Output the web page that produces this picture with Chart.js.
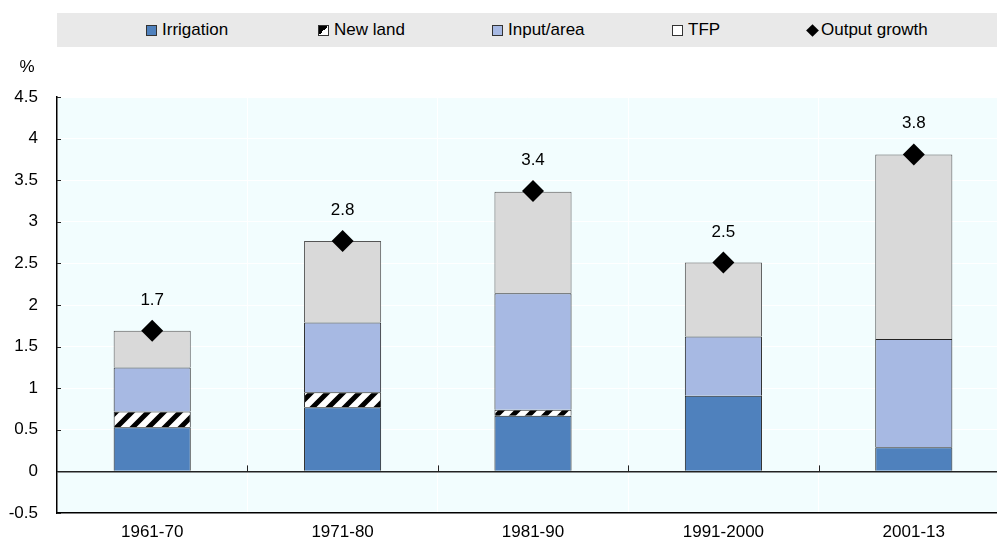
<!DOCTYPE html>
<html>
<head>
<meta charset="utf-8">
<script src="https://cdn.jsdelivr.net/npm/chart.js@4.4.1/dist/chart.umd.min.js"></script>
<style>
  body { margin: 0; background: #fff; font-family: "Liberation Sans", Arial, sans-serif; }
  #wrap { position: relative; width: 997px; height: 541px; overflow: hidden; }
  #legend { position: absolute; left: 57px; top: 13px; width: 940px; height: 34px; background: #e9e9e9; }
  .item { position: absolute; top: 0; height: 34px; display: flex; align-items: center; font-size: 17px; color: #000; white-space: nowrap; }
  .box { width: 9px; height: 9px; border: 1px solid #333; margin-right: 5px; }
  .dia { width: 9px; height: 9px; background: #000; transform: rotate(45deg); margin: 0 4px 0 2px; }
</style>
</head>
<body>
<div id="wrap">
  <canvas id="myChart" width="997" height="541"></canvas>
  <div id="legend">
    <div class="item" style="left:89px"><span class="box" style="background:#4f81bd"></span>Irrigation</div>
    <div class="item" style="left:261px"><span class="box" style="background:linear-gradient(135deg,#000 50%,#fff 50%)"></span>New land</div>
    <div class="item" style="left:435px"><span class="box" style="background:#a7b9e3"></span>Input/area</div>
    <div class="item" style="left:615px"><span class="box" style="background:#fff"></span>TFP</div>
    <div class="item" style="left:749px"><span class="dia"></span>Output growth</div>
  </div>
</div>
<script>
const periods = ['1961-70', '1971-80', '1981-90', '1991-2000', '2001-13'];
const irrigation = [0.53, 0.77, 0.67, 0.91, 0.29];
const newLand = [0.19, 0.18, 0.07, 0, 0];
const inputArea = [0.53, 0.84, 1.40, 0.71, 1.30];
const tfp = [0.44, 0.98, 1.22, 0.89, 2.22];
const outputGrowth = [1.69, 2.77, 3.37, 2.51, 3.81];

const FONT = '"Liberation Sans", Arial, sans-serif';

// striped fill for "New land"
function makeStripes() {
  const s = 16;
  const c = document.createElement('canvas');
  c.width = s; c.height = s;
  const g = c.getContext('2d');
  g.fillStyle = '#fff';
  g.fillRect(0, 0, s, s);
  g.strokeStyle = '#000';
  g.lineWidth = 5;
  g.beginPath();
  g.moveTo(0, s); g.lineTo(s, 0);
  g.moveTo(-s / 2, s / 2); g.lineTo(s / 2, -s / 2);
  g.moveTo(s / 2, s * 1.5); g.lineTo(s * 1.5, s / 2);
  g.stroke();
  return g.createPattern(c, 'repeat');
}

const ctx = document.getElementById('myChart').getContext('2d');

const extras = {
  id: 'extras',
  // pin the plot box: it runs a little past the right edge of the picture
  afterLayout(chart) {
    const x = chart.scales.x, y = chart.scales.y, a = chart.chartArea;
    const right = 1009, bottom = 513;
    a.right = right; a.width = right - a.left;
    a.bottom = bottom; a.height = bottom - a.top;
    x.right = right; x.width = right - x.left;
    x.top = bottom; x.bottom = 541; x.height = 541 - bottom;
    y.bottom = bottom; y.height = bottom - y.top;
    x.configure();
    y.configure();
  },
  beforeDraw(chart) {
    const a = chart.chartArea;
    const c = chart.ctx;
    c.save();
    c.fillStyle = '#f2fdfe';
    c.fillRect(a.left, a.top, a.right - a.left, a.bottom - a.top);
    c.restore();
  },
  afterDraw(chart) {
    const c = chart.ctx;
    const x = chart.scales.x, y = chart.scales.y;
    const a = chart.chartArea;
    c.save();
    // "%" unit
    c.fillStyle = '#000';
    c.font = '17px ' + FONT;
    c.textAlign = 'center';
    c.textBaseline = 'middle';
    c.fillText('%', 27, 67);
    // small ticks on the value axis
    c.strokeStyle = '#222';
    c.lineWidth = 1;
    y.ticks.forEach(t => {
      const py = Math.round(y.getPixelForValue(t.value)) + 0.5;
      c.beginPath();
      c.moveTo(a.left, py); c.lineTo(a.left + 4, py);
      c.stroke();
    });
    // small ticks on the zero line between categories
    const zy = y.getPixelForValue(0);
    for (let i = 1; i < periods.length; i++) {
      const px = Math.round((x.getPixelForValue(i - 1) + x.getPixelForValue(i)) / 2) + 0.5;
      c.beginPath();
      c.moveTo(px, zy); c.lineTo(px, zy - 6);
      c.stroke();
    }
    // value labels above the markers
    const meta = chart.getDatasetMeta(4);
    c.textBaseline = 'alphabetic';
    meta.data.forEach((pt, i) => {
      c.fillText(outputGrowth[i].toFixed(1), pt.x, pt.y - 26);
    });
    c.restore();
  }
};

const barOpts = { borderWidth: 1, borderColor: '#222', barPercentage: 0.405, categoryPercentage: 1, order: 1, stack: 'parts' };

new Chart(ctx, {
  type: 'bar',
  data: {
    labels: periods,
    datasets: [
      Object.assign({ label: 'Irrigation', data: irrigation, backgroundColor: '#4f81bd' }, barOpts),
      Object.assign({ label: 'New land', data: newLand, backgroundColor: makeStripes() }, barOpts),
      Object.assign({ label: 'Input/area', data: inputArea, backgroundColor: '#a7b9e3' }, barOpts),
      Object.assign({ label: 'TFP', data: tfp, backgroundColor: '#d9d9d9' }, barOpts, { borderColor: '#555' }),
      {
        type: 'line',
        label: 'Output growth',
        data: outputGrowth,
        showLine: false,
        pointStyle: 'rectRot',
        pointRadius: 11,
        pointBackgroundColor: '#000',
        pointBorderColor: '#000',
        pointBorderWidth: 0,
        order: 0,
        stack: 'out'
      }
    ]
  },
  options: {
    responsive: false,
    devicePixelRatio: 1,
    animation: false,
    layout: { padding: { top: 97, right: 0, bottom: 0, left: 0 } },
    plugins: { legend: { display: false }, tooltip: { enabled: false } },
    scales: {
      x: {
        stacked: true,
        grid: { offset: true, color: '#ffffff', lineWidth: 1, drawTicks: false },
        border: { display: true, color: '#000', width: 1.5 },
        ticks: { color: '#000', font: { family: FONT, size: 17 }, padding: 9 },
        afterFit(s) { s.height = 28; }
      },
      y: {
        stacked: true,
        min: -0.5,
        max: 4.5,
        grid: {
          color: c => c.tick && c.tick.value === 0 ? '#222' : '#ffffff',
          lineWidth: c => c.tick && c.tick.value === 0 ? 1.5 : 1,
          drawTicks: false
        },
        border: { display: true, color: '#000', width: 1.5 },
        ticks: {
          stepSize: 0.5, color: '#000', font: { family: FONT, size: 17 }, padding: 19,
          callback: v => String(Number(v.toFixed(1)))
        },
        afterFit(s) { s.width = 57; }
      }
    }
  },
  plugins: [extras]
});
</script>
</body>
</html>
